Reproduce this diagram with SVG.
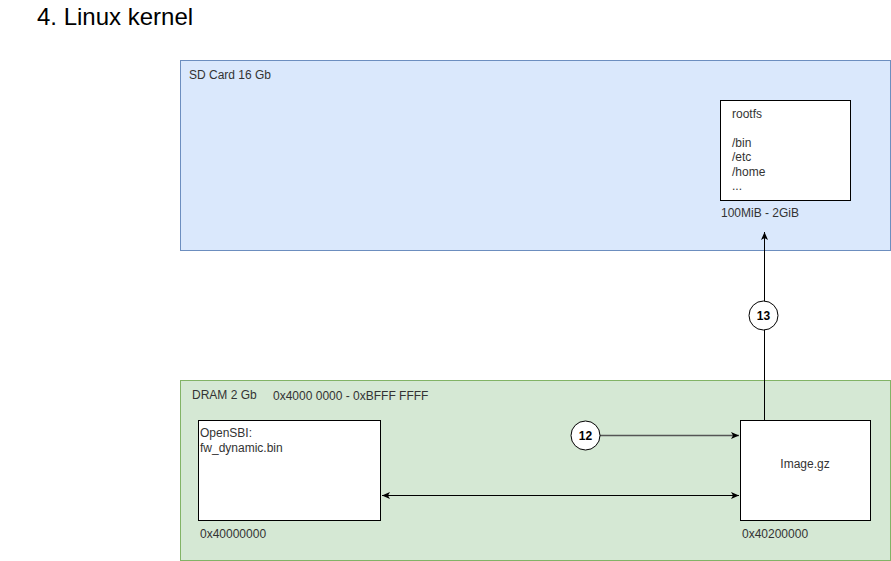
<svg xmlns="http://www.w3.org/2000/svg" width="891" height="561" viewBox="0 0 891 561">
<defs>
<style>
text{font-family:"Liberation Sans",Arial,sans-serif;fill:#333;font-size:12px}
.title{font-size:24px;fill:#000}
.box{fill:#fff;stroke:#000;stroke-width:1}
.ln{stroke:#000;stroke-width:1;fill:none}
.circ{fill:#fff;stroke:#000;stroke-width:1}
.num{font-weight:bold;font-size:12px;fill:#000;text-anchor:middle}
</style>
<marker id="ah" markerWidth="10" markerHeight="10" refX="9" refY="5" orient="auto-start-reverse" markerUnits="userSpaceOnUse">
<path d="M1,1.5 L9,5 L1,8.5 L3,5 Z" fill="#000"/>
</marker>
</defs>
<rect width="891" height="561" fill="#fff"/>
<text class="title" x="37" y="25">4. Linux kernel</text>
<g id="sdcard">
<rect x="180.5" y="60.5" width="710" height="190" fill="#dae8fc" stroke="#6c8ebf"/>
<text x="189" y="79">SD Card 16 Gb</text>
</g>
<g id="rootfs">
<rect class="box" x="720.5" y="100.5" width="130" height="100"/>
<text x="732" y="118">rootfs</text>
<text x="732" y="147">/bin</text>
<text x="732" y="161">/etc</text>
<text x="732" y="176">/home</text>
<text x="732" y="190">...</text>
<text x="721" y="217">100MiB - 2GiB</text>
</g>
<g id="dram">
<rect x="180.5" y="380.5" width="710" height="180" fill="#d5e8d4" stroke="#82b366"/>
<text x="192" y="399">DRAM 2 Gb</text>
<text x="273" y="400">0x4000 0000 - 0xBFFF FFFF</text>
</g>
<g id="opensbi">
<rect class="box" x="198.5" y="420.5" width="182" height="100"/>
<text x="200" y="437">OpenSBI:</text>
<text x="200" y="452">fw_dynamic.bin</text>
<text x="200" y="538">0x40000000</text>
</g>
<g id="image">
<rect class="box" x="740.5" y="420.5" width="130" height="100"/>
<text x="805" y="468" text-anchor="middle">Image.gz</text>
<text x="742" y="538">0x40200000</text>
</g>
<g id="connectors">
<line class="ln" x1="764.5" y1="420" x2="764.5" y2="232" marker-end="url(#ah)"/>
<line x1="600" y1="435.5" x2="739" y2="435.5" stroke="#555" stroke-width="1.5" marker-end="url(#ah)"/>
<line class="ln" x1="382" y1="495.5" x2="739" y2="495.5" marker-start="url(#ah)" marker-end="url(#ah)"/>
</g>
<g id="step13">
<circle class="circ" cx="763.5" cy="315.5" r="14.5"/>
<text class="num" x="763.5" y="319.5">13</text>
</g>
<g id="step12">
<circle class="circ" cx="585.5" cy="435.5" r="14.5"/>
<text class="num" x="585.5" y="439.5">12</text>
</g>
</svg>
